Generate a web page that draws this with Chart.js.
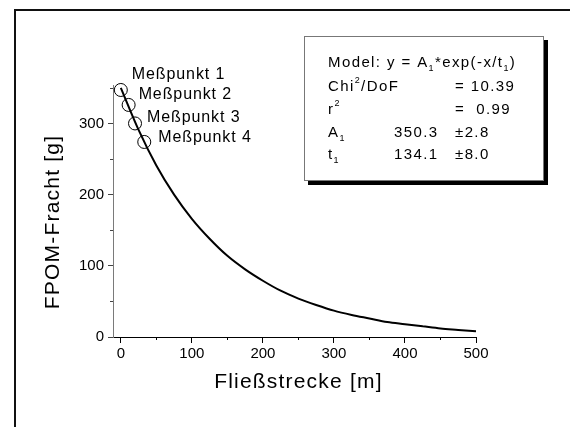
<!DOCTYPE html>
<html>
<head>
<meta charset="utf-8">
<script src="https://cdn.jsdelivr.net/npm/chart.js@4.4.1/dist/chart.umd.min.js"></script>
<style>
  html, body { margin: 0; padding: 0; background: #fff; }
</style>
</head>
<body>
<canvas id="c" width="570" height="427"></canvas>
<script>
// fitted curve, every 25 m
const curveX = [0, 25, 50, 75, 100, 125, 150, 175, 200, 225, 250, 275, 300, 325, 350, 375, 400, 425, 450, 475, 500]
const curveY = [350, 291, 241, 200, 166, 138, 114, 95, 79, 65, 54, 45, 37, 31, 26, 21, 18, 15, 12, 10, 8]

// measured points
const pointX = [0, 11, 20, 33]
const pointY = [347, 326, 300, 274]
const pointNames = ['Meßpunkt 1', 'Meßpunkt 2', 'Meßpunkt 3', 'Meßpunkt 4']

const xMajor = [0, 100, 200, 300, 400, 500]
const xMinor = [50, 150, 250, 350, 450]
const yMajor = [0, 100, 200, 300]
const yMinor = [50, 150, 250, 350]

const xTitle = 'Fließstrecke [m]'
const yTitle = 'FPOM-Fracht [g]'

// fit result box
const fitA1 = '350.3', fitA1Err = '±2.8'
const fitT1 = '134.1', fitT1Err = '±8.0'
const fitChi = '10.39', fitR2 = '0.99'

const FONT = '"Liberation Sans", Arial, sans-serif'

// label offsets next to each point (px)
const labelOffsets = [[11, -15], [10, -10], [12, -6], [14, -4]]

function drawRich(ctx, x, y, parts, size) {
    // parts: [text, 'sub'|'sup'|undefined]
    let cx = x
    for (const [t, kind] of parts) {
        if (kind) {
            ctx.font = '9px ' + FONT
            ctx.fillText(t, cx, y + (kind === 'sub' ? 6 : -6))
        } else {
            ctx.font = size + 'px ' + FONT
            ctx.fillText(t, cx, y)
        }
        cx += ctx.measureText(t).width
    }
}

const decor = {
    id: 'decor',
    beforeDraw(chart) {
        const ctx = chart.ctx
        ctx.save()
        ctx.fillStyle = '#fff'
        ctx.fillRect(0, 0, chart.width, chart.height)
        // outer frame
        ctx.strokeStyle = '#111'
        ctx.lineWidth = 2
        ctx.beginPath()
        ctx.moveTo(15, 427)
        ctx.lineTo(15, 10)
        ctx.lineTo(570, 10)
        ctx.stroke()
        ctx.restore()
    },
    afterDraw(chart) {
        const ctx = chart.ctx
        const xs = chart.scales.x, ys = chart.scales.y
        ctx.save()

        // minor ticks
        ctx.lineWidth = 1
        ctx.strokeStyle = '#000'
        ctx.beginPath()
        for (const v of xMinor) {
            const px = Math.round(xs.getPixelForValue(v)) + 0.5
            ctx.moveTo(px, xs.top)
            ctx.lineTo(px, xs.top + 3)
        }
        ctx.stroke()
        ctx.strokeStyle = '#444'
        ctx.beginPath()
        for (const v of yMinor) {
            const py = Math.round(ys.getPixelForValue(v)) + 0.5
            ctx.moveTo(ys.right, py)
            ctx.lineTo(ys.right - 3, py)
        }
        ctx.stroke()

        // axis titles
        ctx.fillStyle = '#000'
        ctx.letterSpacing = '1.2px'
        ctx.font = '21px ' + FONT
        ctx.textAlign = 'center'
        ctx.textBaseline = 'middle'
        ctx.fillText(xTitle, (xs.getPixelForValue(0) + xs.getPixelForValue(500)) / 2, 382)
        ctx.save()
        ctx.translate(53, 222)
        ctx.rotate(-Math.PI / 2)
        ctx.fillText(yTitle, 0, 0)
        ctx.restore()

        // point labels
        ctx.letterSpacing = '0.9px'
        ctx.font = '16px ' + FONT
        ctx.textAlign = 'left'
        pointNames.forEach((name, i) => {
            const px = xs.getPixelForValue(pointX[i]) + labelOffsets[i][0]
            const py = ys.getPixelForValue(pointY[i]) + labelOffsets[i][1]
            ctx.fillText(name, px, py)
        })

        // fit box
        ctx.fillStyle = '#000'
        ctx.fillRect(308, 40, 240, 145)
        ctx.fillStyle = '#fff'
        ctx.fillRect(304, 36, 240, 145)
        ctx.strokeStyle = '#777'
        ctx.lineWidth = 1
        ctx.strokeRect(304.5, 36.5, 239, 144)

        ctx.letterSpacing = '1.4px'
        ctx.fillStyle = '#000'
        const c0 = 328, c1 = 394, c2 = 455, fs = 15
        drawRich(ctx, c0, 63, [['Model: y = A'], ['1', 'sub'], ['*exp(-x/t'], ['1', 'sub'], [')']], fs)
        drawRich(ctx, c0, 87, [['Chi'], ['2', 'sup'], ['/DoF']], fs)
        drawRich(ctx, c2, 87, [['= ' + fitChi]], fs)
        drawRich(ctx, c0, 110, [['r'], ['2', 'sup']], fs)
        drawRich(ctx, c2, 110, [['=  ' + fitR2]], fs)
        drawRich(ctx, c0, 133, [['A'], ['1', 'sub']], fs)
        drawRich(ctx, c1, 133, [[fitA1]], fs)
        drawRich(ctx, c2, 133, [[fitA1Err]], fs)
        drawRich(ctx, c0, 155, [['t'], ['1', 'sub']], fs)
        drawRich(ctx, c1, 155, [[fitT1]], fs)
        drawRich(ctx, c2, 155, [[fitT1Err]], fs)

        ctx.restore()
    }
}

const ctx = document.getElementById('c')

new Chart(ctx, {
    type: 'scatter',
    data: {
        datasets: [
            {
                type: 'line',
                data: curveX.map((x, i) => ({ x: x, y: curveY[i] })),
                borderColor: '#000',
                borderWidth: 2,
                pointRadius: 0,
                cubicInterpolationMode: 'monotone',
                fill: false,
                clip: false,
            },
            {
                data: pointX.map((x, i) => ({ x: x, y: pointY[i] })),
                borderColor: '#000',
                backgroundColor: 'rgba(0,0,0,0)',
                borderWidth: 1,
                pointRadius: 6.5,
                clip: false,
            },
        ],
    },
    options: {
        responsive: false,
        animation: false,
        events: [],
        layout: { padding: { left: 0, top: 85, right: 94, bottom: 0 } },
        plugins: {
            legend: { display: false },
            tooltip: { enabled: false },
        },
        scales: {
            x: {
                type: 'linear',
                min: -11,
                max: 500,
                afterFit: (s) => { s.height = 90 },
                border: { display: true, color: '#000', width: 1 },
                grid: {
                    drawOnChartArea: false,
                    tickLength: 6,
                    tickColor: (c) => (xMajor.includes(c.tick.value) ? '#000' : 'rgba(0,0,0,0)'),
                },
                ticks: {
                    stepSize: 50,
                    includeBounds: false,
                    autoSkip: false,
                    maxRotation: 0,
                    padding: 2,
                    color: '#000',
                    font: { family: FONT, size: 15 },
                    callback: (v) => (xMajor.includes(v) ? String(v) : ''),
                },
            },
            y: {
                type: 'linear',
                min: 0,
                max: 354,
                afterFit: (s) => { s.width = 113 },
                border: { display: true, color: '#7a7a7a', width: 1 },
                grid: {
                    drawOnChartArea: false,
                    tickLength: 5,
                    tickColor: (c) => (yMajor.includes(c.tick.value) ? '#444' : 'rgba(0,0,0,0)'),
                },
                ticks: {
                    stepSize: 50,
                    includeBounds: false,
                    autoSkip: false,
                    padding: 4,
                    color: '#000',
                    font: { family: FONT, size: 15 },
                    callback: (v) => (yMajor.includes(v) ? String(v) : ''),
                },
            },
        },
    },
    plugins: [decor],
})
</script>
</body>
</html>
